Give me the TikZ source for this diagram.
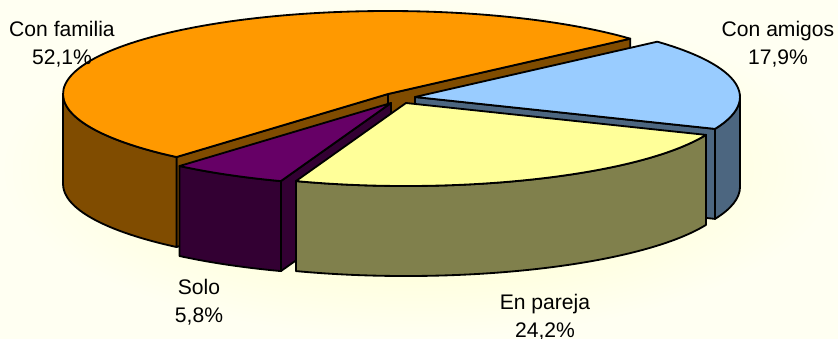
\documentclass[tikz,border=0pt]{standalone}
\usepackage{fontspec}
\setmainfont{Liberation Sans}

\begin{document}
\begin{tikzpicture}[x=0.025cm, y=0.025cm, line width=1.3pt, line join=round,
    lbl/.style={align=center, font=\fontsize{15}{20}\selectfont},
    rim/.style={x radius=325, y radius=83}]

  % Define colors
  \definecolor{famtop}{RGB}{255,153,0}   \definecolor{famside}{RGB}{128,76,0}
  \definecolor{amitop}{RGB}{153,204,255} \definecolor{amiside}{RGB}{76,102,128}
  \definecolor{partop}{RGB}{255,255,153} \definecolor{parside}{RGB}{128,128,76}
  \definecolor{soltop}{RGB}{102,0,102}   \definecolor{solside}{RGB}{51,0,51}

  % Background
  \useasboundingbox (0,0) rectangle (838,338);
  \shade[inner color={rgb,255:red,255;green,255;blue,190},
         outer color={rgb,255:red,255;green,255;blue,242}] (0,0) rectangle (838,338);

  % Con familia (52,1%)
  \begin{scope}[shift={(388,244)}]
    \filldraw[fill=famside] (0,0) -- (41.8:325 and 83) -- ++(0,-90) -- (0,-90) -- cycle;
    \filldraw[fill=famside] (0,0) -- (229.4:325 and 83) -- ++(0,-90) -- (0,-90) -- cycle;
    \filldraw[fill=famside] (180:325 and 83) arc[start angle=180, end angle=229.4, rim]
      -- ++(0,-90) arc[start angle=229.4, end angle=180, rim] -- cycle;
    \filldraw[fill=famtop] (0,0) -- (41.8:325 and 83) arc[start angle=41.8, end angle=229.4, rim] -- cycle;
  \end{scope}

  % Con amigos (17,9%)
  \begin{scope}[shift={(415,241)}]
    \filldraw[fill=amiside] (0,0) -- (-22.6:325 and 83) -- ++(0,-90) -- (0,-90) -- cycle;
    \filldraw[fill=amiside] (-22.6:325 and 83) arc[start angle=-22.6, end angle=0, rim]
      -- ++(0,-90) arc[start angle=0, end angle=-22.6, rim] -- cycle;
    \filldraw[fill=amitop] (0,0) -- (-22.6:325 and 83) arc[start angle=-22.6, end angle=41.8, rim] -- cycle;
  \end{scope}

  % Solo (5,8%)
  \begin{scope}[shift={(391,235)}]
    \filldraw[fill=solside] (0,0) -- (-109.8:325 and 83) -- ++(0,-90) -- (0,-90) -- cycle;
    \filldraw[fill=solside] (-130.6:325 and 83) arc[start angle=-130.6, end angle=-109.8, rim]
      -- ++(0,-90) arc[start angle=-109.8, end angle=-130.6, rim] -- cycle;
    \filldraw[fill=soltop] (0,0) -- (-130.6:325 and 83) arc[start angle=-130.6, end angle=-109.8, rim] -- cycle;
  \end{scope}

  % En pareja (24,2%)
  \begin{scope}[shift={(406,235)}]
    \filldraw[fill=parside] (-109.8:325 and 83) arc[start angle=-109.8, end angle=-22.6, rim]
      -- ++(0,-90) arc[start angle=-22.6, end angle=-109.8, rim] -- cycle;
    \filldraw[fill=partop] (0,0) -- (-109.8:325 and 83) arc[start angle=-109.8, end angle=-22.6, rim] -- cycle;
  \end{scope}

  % Labels
  \node[lbl] (familia) at (62,294) {Con familia\\52,1\%};
  \node[lbl] (amigos) at (778,294) {Con amigos\\17,9\%};
  \node[lbl] (solo) at (199,36) {Solo\\5,8\%};
  \node[lbl] (pareja) at (545,21) {En pareja\\24,2\%};
\end{tikzpicture}
\end{document}
